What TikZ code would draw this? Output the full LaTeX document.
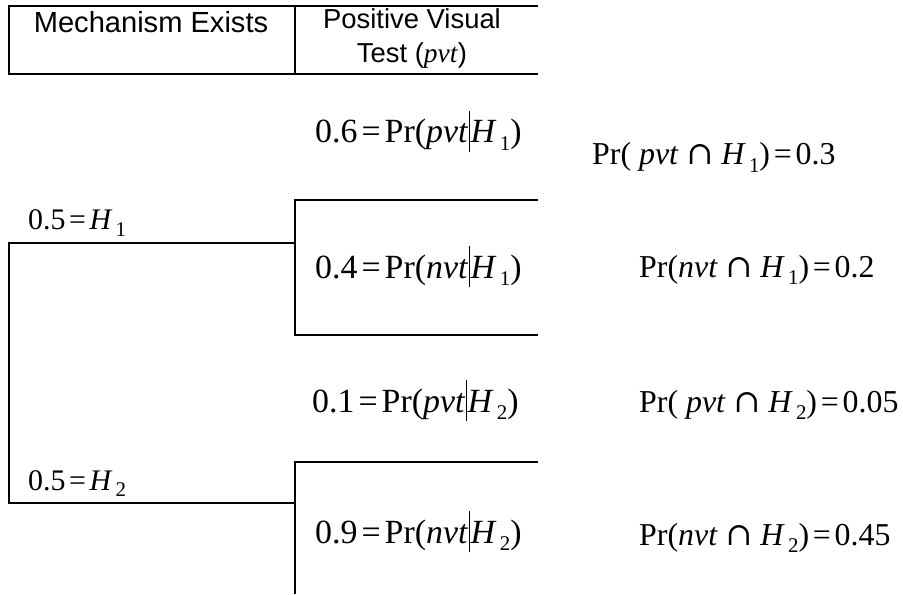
\documentclass[tikz,border=0pt]{standalone}
\usepackage{fontspec}
\setmainfont{Liberation Serif}
\newfontfamily\hdrfont{Liberation Sans}
\newfontfamily\symfont{DejaVu Serif}
\newcommand{\lowsub}[1]{\hspace{0.1em}\raisebox{-0.22em}{\fontsize{21}{21}\selectfont #1}}
\newcommand{\cbar}{\hspace{0.02em}\rule[-0.28em]{1bp}{1.22em}\hspace{0.02em}}
\newcommand{\capsym}{{\symfont ∩}}
\newcommand{\eqs}{\hspace{0.12em}=\hspace{0.12em}}
\begin{document}
\begin{tikzpicture}[x=1bp,y=-1bp,
  ln/.style={line width=2bp,line cap=rect},
  hdr/.style={font=\hdrfont,align=center,inner sep=0pt},
  eq/.style={anchor=base west,inner sep=0pt},
  eqa/.style={eq,font=\fontsize{30}{36}\selectfont},
  eqb/.style={eq,font=\fontsize{34}{40}\selectfont},
  eqc/.style={eq,font=\fontsize{32}{38}\selectfont}]
\useasboundingbox (0,0) rectangle (903,595);
% header
\coordinate (hTL) at (9,6);
\coordinate (hTM) at (295,6);
\coordinate (hTR) at (537,6);
\coordinate (hBL) at (9,74.5);
\coordinate (hBM) at (295,74.5);
\coordinate (hBR) at (537,74.5);
\draw[ln] (hTL) -- (hTR);
\draw[ln] (hBL) -- (hBR);
\draw[ln] (hTL) -- (hBL);
\draw[ln] (hTM) -- (hBM);
\node[hdr,anchor=base,font=\hdrfont\fontsize{29.2}{34}\selectfont] (mech) at (151,33) {Mechanism Exists};
\node[hdr,anchor=base,font=\hdrfont\fontsize{27.5}{35}\selectfont] (pvis) at (412,63) {Positive Visual\\Test (\textrm{\textit{pvt}})};
% tree
\coordinate (r1) at (9,243);
\coordinate (r2) at (9,503);
\coordinate (b1) at (295,243);
\coordinate (b2) at (295,503);
\coordinate (b1t) at (295,200);
\coordinate (b1b) at (295,335);
\coordinate (e1t) at (537,200);
\coordinate (e1b) at (537,335);
\coordinate (b2t) at (295,462);
\coordinate (b2b) at (295,593);
\coordinate (e2t) at (537,462);
\draw[ln] (r1) -- (b1);
\draw[ln] (r1) -- (r2);
\draw[ln] (r2) -- (b2);
\draw[ln] (b1t) -- (b1b);
\draw[ln] (b1t) -- (e1t);
\draw[ln] (b1b) -- (e1b);
\draw[ln] (b2t) -- (b2b);
\draw[ln] (b2t) -- (e2t);
% labels
\node[eqa] (h1) at (28,230) {0.5\eqs\textit{H}\lowsub{1}};
\node[eqa] (h2) at (28,490) {0.5\eqs\textit{H}\lowsub{2}};
\node[eqb] (c1) at (315,143) {0.6\eqs Pr(\textit{pvt}\cbar\textit{H}\lowsub{1})};
\node[eqb] (c2) at (315,278) {0.4\eqs Pr(\textit{nvt}\cbar\textit{H}\lowsub{1})};
\node[eqb] (c3) at (312,412) {0.1\eqs Pr(\textit{pvt}\cbar\textit{H}\lowsub{2})};
\node[eqb] (c4) at (315,543) {0.9\eqs Pr(\textit{nvt}\cbar\textit{H}\lowsub{2})};
\node[eqc] (j1) at (592,165) {Pr( \textit{pvt} \capsym{} \textit{H}\lowsub{1})\eqs 0.3};
\node[eqc] (j2) at (639,277) {Pr(\textit{nvt} \capsym{} \textit{H}\lowsub{1})\eqs 0.2};
\node[eqc] (j3) at (639,412) {Pr( \textit{pvt} \capsym{} \textit{H}\lowsub{2})\eqs 0.05};
\node[eqc] (j4) at (639,545) {Pr(\textit{nvt} \capsym{} \textit{H}\lowsub{2})\eqs 0.45};
\end{tikzpicture}
\end{document}
